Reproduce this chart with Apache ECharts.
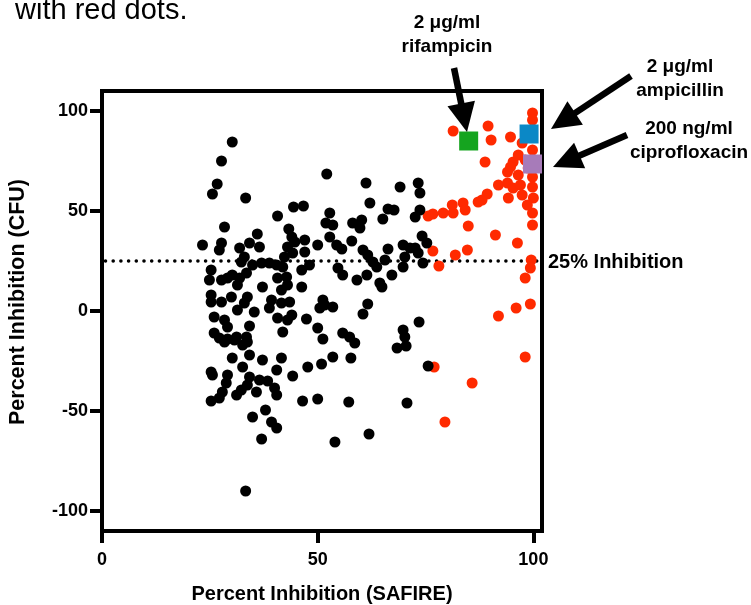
<!DOCTYPE html>
<html>
<head>
<meta charset="utf-8">
<script src="https://cdn.jsdelivr.net/npm/echarts@6/dist/echarts.min.js"></script>
<style>html,body{margin:0;padding:0;background:#fff;}#chart{width:751px;height:605px;}</style>
</head>
<body>
<div id="chart"></div>
<script>
// ---- data (x = Percent Inhibition SAFIRE, y = Percent Inhibition CFU) ----
const blackPoints = [
[30.2,84.5],[27.7,75],[26.7,63.5],[25.6,58.5],[33.3,56.5],[52.1,68.5],[61.2,64],[69.1,62],[73.3,64],[73.7,59],
[62.1,54],[44.4,52],[46.7,52.5],[52.8,49],[66.3,51],[67.7,50.5],[65.1,46],[73.7,50.5],[72.6,47],[40.7,47.5],
[28.4,42],[43.3,41],[51.9,44],[53.5,43],[58.1,44],[60.2,45.5],[59.8,41.5],[36.0,38.5],[23.3,33],[27.7,34],
[27.2,30.5],[31.9,31.5],[34.2,34],[36.5,32],[43.0,32],[44.0,37],[44.7,34.5],[44.2,29],[47.0,35.5],[47.0,29.5],
[50.0,33],[52.8,37],[54.4,33],[55.6,31],[57.9,35],[60.5,30.5],[61.6,28],[62.8,24.5],[66.3,31],[69.8,33],
[71.4,31.5],[73.3,29],[74.2,37.5],[75.3,34],[72.6,31.5],[70.2,27],[33.0,27],[32.3,24.5],[34.9,23],[37.0,24],
[38.8,24],[40.5,23],[42.3,27],[41.9,22],[25.3,20.5],[24.9,15.5],[27.7,15.5],[29.1,16.5],[30.2,18],[31.9,16.5],
[33.5,19],[31.4,13],[37.2,12],[40.7,16.5],[42.8,17],[43.0,13],[41.6,10.5],[46.3,20.5],[46.3,12],[48.1,23],
[54.7,21.5],[55.8,18],[59.1,15.5],[61.4,18],[63.7,22],[65.6,25.5],[64.4,14],[64.9,12],[67.2,18],[69.8,22],
[74.4,24],[25.3,8],[25.3,4.5],[27.7,4.5],[30.0,7],[33.7,7],[33.0,4],[31.4,0.5],[35.3,-0.5],[39.3,5.5],
[41.6,4],[43.5,4.5],[38.8,1.5],[40.7,-3.5],[43.0,-4.5],[41.9,-10.5],[26.0,-3],[28.4,-4.5],[26.0,-11],[29.1,-8],
[31.2,-13],[33.5,-13],[34.2,-7.5],[27.2,-13.5],[29.1,-14],[28.4,-15.5],[30.7,-14.5],[32.6,-17],[33.7,-15.5],[51.2,5.5],
[51.6,3],[53.5,2],[50.5,1.5],[61.6,3.5],[60.5,-1.5],[44.0,-2],[47.4,-4],[50.0,-8.5],[51.2,-14],[55.8,-11],
[57.4,-13],[58.6,-16],[69.8,-9.5],[70.2,-13],[68.4,-18.5],[70.5,-17.5],[73.5,-5.5],[75.6,-27.5],[30.2,-23.5],[34.2,-22],
[37.2,-24.5],[41.6,-23.5],[40.5,-29.5],[44.2,-32.5],[25.3,-30.5],[25.6,-32],[29.1,-32],[28.8,-36],[32.6,-28],[34.2,-33],
[36.5,-34.5],[38.4,-35],[33.7,-37],[32.3,-39.5],[31.2,-42],[35.8,-40.5],[40.0,-38.5],[40.5,-42],[27.9,-40.5],[27.2,-43.5],
[25.3,-45],[47.7,-28],[50.9,-26.5],[53.5,-23],[57.7,-23.5],[46.5,-45],[50.0,-44],[57.2,-45.5],[70.7,-46],[34.9,-53],
[37.9,-49.5],[39.3,-55.5],[40.5,-58.5],[37.0,-64],[54.0,-65.5],[61.9,-61.5],[33.3,-90]
];
const redPoints = [
[81.4,90],[89.5,92.5],[90.2,85.5],[94.7,87],[88.8,74.5],[99.8,99],[99.8,95.5],[97.4,84],[99.8,80.5],[95.3,74.5],
[96.5,78],[94.7,72],[94.0,69.5],[98.8,71.5],[99.8,67],[96.5,68],[91.9,63],[94.0,64],[95.3,61.5],[97.4,58],
[99.8,62],[94.2,56.5],[100,56.5],[89.3,58.5],[88.1,55.5],[87.2,54.5],[83.7,54],[84.2,50.5],[81.2,53],[81.4,49],
[79.1,49],[76.7,48.5],[75.6,47.5],[99.8,49],[99.8,43],[84.9,42.5],[91.2,38],[96.3,34],[76.7,30],[84.7,30.5],
[81.9,28],[78.1,22.5],[99.5,25.5],[99.3,21.5],[98.1,16.5],[96.0,1.5],[99.3,3.5],[91.9,-2.5],[98.1,-23],[77.0,-28],
[85.8,-36],[79.5,-55.5],[98.1,75.5],[97.0,63],[98.6,53]
];
const rifampicinPoint = [[85, 85]];
const ampicillinPoint = [[99, 88.5]];
const ciprofloxacinPoint = [[99.8, 73.5]];
const inhibitionLine = [[0.8, 25], [101, 25]];
const xTicks = [0, 50, 100];
const yTicks = [-100, -50, 0, 50, 100];
const xRange = [0, 102];
const yRange = [-110, 110];

const FONT = '"Liberation Sans", Arial, Helvetica, sans-serif';
const chart = echarts.init(document.getElementById('chart'), null, {renderer: 'canvas'});

function arrowEls(tail, tip) {
  const dx = tip[0] - tail[0], dy = tip[1] - tail[1];
  const L = Math.hypot(dx, dy), ux = dx / L, uy = dy / L;
  const headLen = 29, halfW = 14;
  const bx = tip[0] - ux * headLen, by = tip[1] - uy * headLen;
  const px = -uy, py = ux;
  return [
    {type: 'line', shape: {x1: tail[0], y1: tail[1], x2: bx + ux * 3, y2: by + uy * 3},
     style: {stroke: '#000', lineWidth: 6.5}, z: 100},
    {type: 'polygon', shape: {points: [tip, [bx + px * halfW, by + py * halfW], [bx - px * halfW, by - py * halfW]]},
     style: {fill: '#000'}, z: 100}
  ];
}

const boldText = (txt, x, y, align, size) => ({
  type: 'text', x: x, y: y, z: 100,
  style: {text: txt, fill: '#000', font: 'bold ' + (size || 19) + 'px ' + FONT, align: align, verticalAlign: 'middle', lineHeight: 24}
});

chart.setOption({
  animation: false,
  backgroundColor: '#fff',
  grid: {left: 102, right: 209, top: 91, bottom: 74, show: true, borderColor: '#000', borderWidth: 4, backgroundColor: 'transparent'},
  xAxis: {
    type: 'value', min: xRange[0], max: xRange[1],
    axisLine: {show: true, onZero: false, lineStyle: {color: '#000', width: 4}},
    splitLine: {show: false},
    axisTick: {show: true, customValues: xTicks, length: 12, lineStyle: {color: '#000', width: 4}},
    axisLabel: {customValues: xTicks, color: '#000', fontWeight: 'bold', fontSize: 18, fontFamily: FONT, margin: 20}
  },
  yAxis: {
    type: 'value', min: yRange[0], max: yRange[1],
    axisLine: {show: true, onZero: false, lineStyle: {color: '#000', width: 4}},
    splitLine: {show: false},
    axisTick: {show: true, customValues: yTicks, length: 12, lineStyle: {color: '#000', width: 4}},
    axisLabel: {customValues: yTicks, color: '#000', fontWeight: 'bold', fontSize: 18, fontFamily: FONT, margin: 14}
  },
  series: [
    {type: 'line', data: inhibitionLine, symbol: 'none', silent: true,
     lineStyle: {color: '#000', width: 3.5, type: [0.1, 7.6], cap: 'round'}, z: 1},
    {type: 'scatter', data: redPoints, symbol: 'circle', symbolSize: 11, itemStyle: {color: '#ff2a00', opacity: 1}, z: 2},
    {type: 'scatter', data: blackPoints, symbol: 'circle', symbolSize: 11, itemStyle: {color: '#000', opacity: 1}, z: 3},
    {type: 'scatter', data: rifampicinPoint, symbol: 'rect', symbolSize: 19, itemStyle: {color: '#15a41f', opacity: 1}, z: 4},
    {type: 'scatter', data: ampicillinPoint, symbol: 'rect', symbolSize: 19, itemStyle: {color: '#0b88c6', opacity: 1}, z: 4},
    {type: 'scatter', data: ciprofloxacinPoint, symbol: 'rect', symbolSize: 19, itemStyle: {color: '#a77bb9', opacity: 1}, z: 4}
  ],
  graphic: [
    {type: 'text', x: 15, y: 10.5, z: 100, style: {text: 'with red dots.', fill: '#000', font: '29px ' + FONT, align: 'left', verticalAlign: 'middle'}},
    boldText('2 μg/ml\nrifampicin', 447, 35, 'center'),
    boldText('2 μg/ml\nampicillin', 680, 79, 'center'),
    boldText('200 ng/ml\nciprofloxacin', 689, 141, 'center'),
    boldText('25% Inhibition', 548, 262, 'left', 20),
    boldText('Percent Inhibition (SAFIRE)', 322, 594, 'center', 20),
    {type: 'text', x: 18, y: 302, rotation: Math.PI / 2, z: 100,
     style: {text: 'Percent Inhibition (CFU)', fill: '#000', font: 'bold 21.5px ' + FONT, align: 'center', verticalAlign: 'middle'}}
  ].concat(arrowEls([454, 68], [467, 132]), arrowEls([631, 76], [551, 129]), arrowEls([627, 135], [553, 167]))
});
</script>
</body>
</html>
